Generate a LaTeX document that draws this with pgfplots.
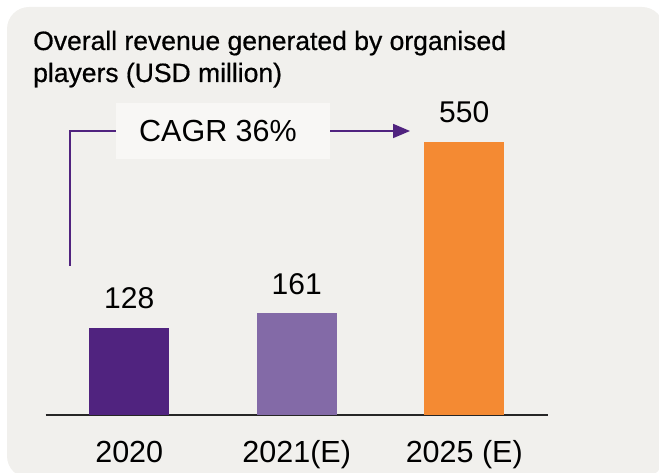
\documentclass[border=0pt]{standalone}
\usepackage{fontspec}
\setmainfont{Liberation Sans}
\newfontfamily\titlefont{Liberation Sans}[FakeBold=0.6]
\usepackage{pgfplots}
\pgfplotsset{compat=1.18}
\usetikzlibrary{arrows.meta}

\definecolor{bgcol}{HTML}{F1F0ED}
\definecolor{boxcol}{HTML}{F8F7F5}
\definecolor{darkpurple}{HTML}{50237F}
\definecolor{lightpurple}{HTML}{836AA7}
\definecolor{orangebar}{HTML}{F48A33}

\pgfplotstableread{
x y
0 128
}\dataA
\pgfplotstableread{
x y
1 161
}\dataB
\pgfplotstableread{
x y
2 550
}\dataC

\begin{document}
\begin{tikzpicture}[x=1pt,y=1pt]
\useasboundingbox (0,0) rectangle (659,472);
\clip (0,0) rectangle (659,472);
\fill[bgcol, rounded corners=22pt] (7,-6) rectangle (664,465);

% title
\node[anchor=base west, inner sep=0pt, font=\titlefont\fontsize{26.5}{30}\selectfont] at (33,422) {Overall revenue generated by organised};
\node[anchor=base west, inner sep=0pt, font=\titlefont\fontsize{26.5}{30}\selectfont] at (33,390) {players (USD million)};

\begin{axis}[
  at={(45.5pt,57pt)}, anchor=south west,
  scale only axis,
  width=502.5pt, height=315pt,
  xmin=-0.5, xmax=2.5,
  ymin=0, ymax=714.6,
  axis x line*=bottom,
  axis y line=none,
  axis line style={line width=1.6pt, draw=black!85},
  xtick={0,1,2},
  xticklabels={2020, 2021(E), 2025 (E)},
  major tick length=0pt,
  xticklabel style={anchor=base, yshift=-47pt, inner sep=0pt, font=\fontsize{30.5}{34}\selectfont},
  ybar, bar width=80pt, bar shift=0pt,
  y filter/.expression={y+70},
  point meta=explicit symbolic,
  nodes near coords,
  nodes near coords style={anchor=base, yshift=19pt, inner sep=0pt, font=\fontsize{30}{34}\selectfont, text=black},
  clip=false,
]
\addplot[fill=darkpurple, draw=none] table[x=x, y=y, meta=y] {\dataA};
\addplot[fill=lightpurple, draw=none] table[x=x, y=y, meta=y] {\dataB};
\addplot[fill=orangebar, draw=none] table[x=x, y=y, meta=y] {\dataC};
\end{axis}

% CAGR annotation
\draw[darkpurple, line width=1.8pt] (70,206.3) -- (70,341) -- (116,341);
\fill[boxcol] (116,313) rectangle (330,369);
\node[anchor=base, inner sep=0pt, font=\fontsize{30.5}{34}\selectfont] at (218,330.3) {CAGR 36\%};
\draw[darkpurple, line width=1.8pt, -{Triangle[length=17pt,width=14pt]}] (330,341) -- (410,341);
\end{tikzpicture}
\end{document}
